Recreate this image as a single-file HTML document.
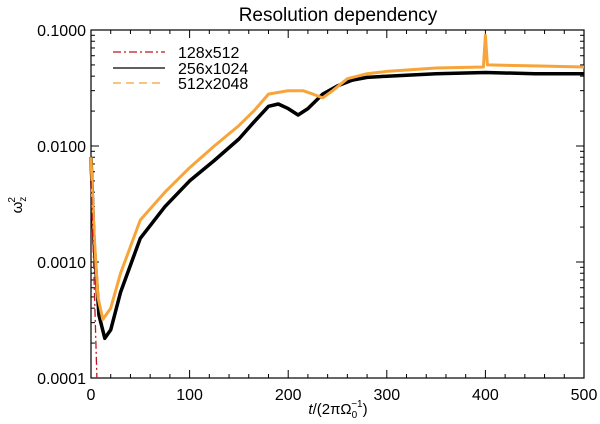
<!DOCTYPE html>
<html><head><meta charset="utf-8"><style>
body{margin:0;background:#fff;}
svg{display:block;font-family:"Liberation Sans",sans-serif;}
</style></head><body>
<svg id="chart" width="600" height="424">
<text x="338" y="21" font-size="19" text-anchor="middle">Resolution dependency</text>
<g id="axes"></g>
<g id="series"></g>
<g>
<line x1="113" y1="52" x2="165" y2="52" stroke="#c0141e" stroke-width="1.3" stroke-dasharray="8,3,2,3"/>
<text x="178" y="58" font-size="16">128x512</text>
<line x1="113" y1="68" x2="165" y2="68" stroke="#000" stroke-width="1.3"/>
<text x="178" y="74" font-size="16">256x1024</text>
<line x1="113" y1="83" x2="165" y2="83" stroke="#f5a030" stroke-width="1.3" stroke-dasharray="8,5"/>
<text x="178" y="89" font-size="16">512x2048</text>
</g>
<text transform="translate(22,205) rotate(-90)" font-size="15" text-anchor="middle">ω<tspan font-size="10" dy="4">z</tspan><tspan font-size="10" dx="-6" dy="-11">2</tspan></text>
<text x="338" y="414" font-size="15" text-anchor="middle"><tspan font-style="italic">t</tspan>/(2πΩ<tspan font-size="10" dy="4">0</tspan><tspan font-size="10" dx="-6" dy="-11">−1</tspan><tspan dy="7">)</tspan></text>
</svg>
<script>
const xTicks=[0,100,200,300,400,500];
const yTickLabels=["0.0001","0.0010","0.0100","0.1000"];
const yTickVals=[1e-4,1e-3,1e-2,1e-1];
const tRed=[0,2,4,6];
const vRed=[5e-3,1.5e-3,4e-4,1e-4];
const tBlack=[0,3,8,14,20,30,50,75,100,125,150,165,180,190,200,210,220,235,250,265,280,300,350,400,450,500];
const vBlack=[8e-3,1.5e-3,3.5e-4,2.2e-4,2.6e-4,5.5e-4,1.6e-3,3e-3,5e-3,7.5e-3,1.15e-2,1.6e-2,2.2e-2,2.3e-2,2.1e-2,1.85e-2,2.1e-2,2.8e-2,3.3e-2,3.7e-2,3.9e-2,4.0e-2,4.2e-2,4.3e-2,4.2e-2,4.2e-2];
const tOrange=[0,3,7,12,20,30,50,75,100,125,150,165,180,200,215,225,235,245,260,280,300,350,398,400,402,450,500];
const vOrange=[8e-3,1.8e-3,5e-4,3.2e-4,4e-4,8e-4,2.3e-3,4e-3,6.5e-3,1e-2,1.5e-2,2e-2,2.8e-2,3e-2,3e-2,2.8e-2,2.6e-2,3e-2,3.8e-2,4.2e-2,4.4e-2,4.7e-2,4.8e-2,9e-2,5e-2,4.9e-2,4.8e-2];
const L=91,R=584,T=30,B=378;
const xs=t=>L+(t-0)/(500)*(R-L);
const ys=v=>B-(Math.log10(v)+4)/3*(B-T);
const NS="http://www.w3.org/2000/svg";
const ax=document.getElementById('axes'),se=document.getElementById('series');
function mk(tag,at,parent){const e=document.createElementNS(NS,tag);for(const k in at)e.setAttribute(k,at[k]);parent.appendChild(e);return e;}
const frame=mk('rect',{x:L,y:T,width:R-L,height:B-T,fill:'none',stroke:'#000','stroke-width':1.2},ax);


for(let t=0;t<=500;t+=20){const big=t%100===0;const h=big?8:4;
 mk('line',{x1:xs(t),x2:xs(t),y1:B,y2:B-h,stroke:'#000'},ax);
 mk('line',{x1:xs(t),x2:xs(t),y1:T,y2:T+h,stroke:'#000'},ax);}
xTicks.forEach(t=>{const e=mk('text',{x:xs(t),y:B+22,'font-size':16,'text-anchor':'middle'},ax);e.textContent=t;
 
 });
for(let d=-4;d<-1;d++)for(let m=1;m<=10;m++){const v=m*Math.pow(10,d);const h=m===1||m===10?8:4;
 mk('line',{x1:L,x2:L+h,y1:ys(v),y2:ys(v),stroke:'#000'},ax);
 mk('line',{x1:R,x2:R-h,y1:ys(v),y2:ys(v),stroke:'#000'},ax);}
yTickVals.forEach((v,i)=>{const e=mk('text',{x:L-5,y:ys(v)+6,'font-size':16,'text-anchor':'end'},ax);e.textContent=yTickLabels[i];
 
 });
function path(ts,vs){return ts.map((t,i)=>(i?'L':'M')+xs(t).toFixed(1)+','+ys(vs[i]).toFixed(1)).join('');}
const pb=mk('path',{d:path(tBlack,vBlack),fill:'none',stroke:'#000','stroke-width':3.5,'stroke-linejoin':'round'},se);


const po=mk('path',{d:path(tOrange,vOrange),fill:'none',stroke:'#f7a53a','stroke-width':3,'stroke-linejoin':'round'},se);


const pr=mk('path',{d:path(tRed,vRed),fill:'none',stroke:'#c0141e','stroke-width':1.3,'stroke-dasharray':'8,3,2,3'},se);


</script>
</body></html>
